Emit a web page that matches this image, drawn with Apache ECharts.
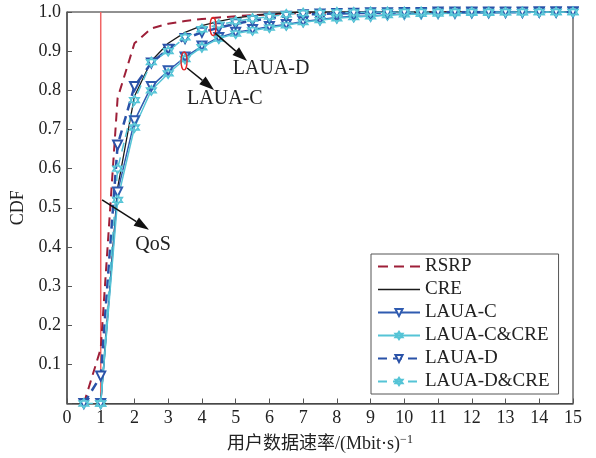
<!DOCTYPE html>
<html><head><meta charset="utf-8">
<script src="https://cdn.jsdelivr.net/npm/echarts@6/dist/echarts.min.js"></script>
<style>html,body{margin:0;padding:0;background:#fff}#c{width:596px;height:458px}</style>
</head><body><div id="c"></div>
<script>
const xs = [0.5,1,1.5,2,2.5,3,3.5,4,4.5,5,5.5,6,6.5,7,7.5,8,8.5,9,9.5,10,10.5,11,11.5,12,12.5,13,13.5,14,14.5,15];
const rsrp = [0,0.14,0.78,0.92,0.958,0.97,0.977,0.982,0.986,0.989,0.992,0.994,0.996,0.997,0.998,0.999,0.999,0.999,1,1,1,1,1,1,1,1,1,1,1,1];
const cre = [null,0,0.55,0.785,0.875,0.92,0.948,0.965,0.976,0.985,0.99,0.995,0.998,1,1,1,1,1,1,1,1,1,1,1,1,1,1,1,1,1];
const lauaC = [null,0,0.54,0.722,0.81,0.85,0.885,0.913,0.935,0.948,0.955,0.963,0.968,0.976,0.981,0.986,0.989,0.99,0.993,0.995,0.996,0.997,0.997,0.998,0.998,0.999,0.999,1,1,1];
const lauaCCre = [null,0,0.52,0.705,0.8,0.843,0.88,0.91,0.932,0.945,0.953,0.96,0.966,0.974,0.979,0.984,0.987,0.989,0.992,0.994,0.995,0.996,0.997,0.998,0.998,0.999,0.999,1,1,1];
const lauaD = [0,0.07,0.66,0.81,0.87,0.905,0.932,0.948,0.96,0.97,0.978,0.984,0.989,0.993,0.995,0.996,0.997,0.998,0.998,0.999,0.999,1,1,1,1,1,1,1,1,1];
const lauaDCre = [0,0,0.6,0.775,0.872,0.9,0.935,0.956,0.968,0.976,0.983,0.988,0.994,0.997,0.998,0.999,0.999,1,1,1,1,1,1,1,1,1,1,1,1,1];
const qosX = [1,1];
const qosY = [0,1];
const names = ['RSRP','CRE','LAUA-C','LAUA-C&CRE','LAUA-D','LAUA-D&CRE'];
// annotation anchors (data units)
const annEllipses = [[4.33,0.963],[3.47,0.875]];
const annArrows = [[[4.39,0.946],[5.34,0.875]],[[3.56,0.857],[4.36,0.801]],[[1.04,0.52],[2.43,0.444]]];
const annTexts = [['LAUA-D',6.05,0.854],['LAUA-C',4.68,0.778],['QoS',2.55,0.406]];

const FONT = '"Liberation Serif","Times New Roman","Noto Sans CJK SC",serif';
const star = 'path://M0,-10L8.66,5L-8.66,5Z M0,10L8.66,-5L-8.66,-5Z';
const dashIcon = 'path://M0,0h10v2h-10z M16,0h10v2h-10z M32,0h10v2h-10z';
const solidIcon = 'path://M0,0h42v1.4h-42z';
const zip = a => xs.map((x,i)=>[x,a[i]]);
const chart = echarts.init(document.getElementById('c'));
const cBlue='#2f5bb0', cCyan='#55c4d6', cDBlue='#2a52a8', cRed='#9e1f38', cBlack='#1a1a1a';
chart.setOption({
  animation:false,
  textStyle:{fontFamily:FONT,color:'#222'},
  grid:{left:67,right:23,top:12,bottom:51,show:true,borderColor:'#222',borderWidth:1},
  legend:{
    data:[{name:'RSRP',icon:dashIcon,itemStyle:{color:cRed}},{name:'CRE',icon:solidIcon,itemStyle:{color:cBlack}},'LAUA-C','LAUA-C&CRE','LAUA-D','LAUA-D&CRE'],
    orient:'vertical', left:371, top:254,
    itemWidth:42, itemHeight:9, itemGap:4, itemTextGap:4,
    padding:[3,9,3,6], borderColor:'#555', borderWidth:1, backgroundColor:'#fff',
    textStyle:{fontFamily:FONT,fontSize:19,color:'#222',lineHeight:19}
  },
  xAxis:{type:'value',min:0,max:15,interval:1,
    axisLine:{lineStyle:{color:'#555',width:1.5}},
    axisTick:{inside:true,length:5,lineStyle:{color:'#555'}},
    splitLine:{show:false},
    axisLabel:{fontFamily:FONT,fontSize:18,color:'#222',margin:6},
    name:'{a|用户数据速率/(Mbit·s)}{s|−1}', nameLocation:'middle', nameGap:30,
    nameTextStyle:{rich:{a:{fontFamily:FONT,fontSize:18,color:'#222'},s:{fontFamily:FONT,fontSize:12,color:'#222',padding:[0,0,9,0]}}}
  },
  yAxis:{type:'value',min:0,max:1,interval:0.1,
    axisLine:{lineStyle:{color:'#555',width:1.5}},
    axisTick:{inside:true,length:5,lineStyle:{color:'#555'}},
    splitLine:{show:false},
    axisLabel:{fontFamily:FONT,fontSize:18,color:'#222',margin:6,formatter:v=>v===0?'':v.toFixed(1)},
    name:'CDF', nameLocation:'middle', nameGap:39, nameRotate:90,
    nameTextStyle:{fontFamily:FONT,fontSize:18,color:'#222'}
  },
  series:[
    {name:'QoS',type:'line',data:qosX.map((x,i)=>[x,qosY[i]]),symbol:'none',lineStyle:{color:'#f06464',width:1.5},z:1},
    {name:'RSRP',type:'line',data:zip(rsrp),symbol:'none',color:cRed,lineStyle:{color:cRed,width:2,type:[9,6]}},
    {name:'CRE',type:'line',data:zip(cre),symbol:'none',color:cBlack,lineStyle:{color:cBlack,width:1.3}},
    {name:'LAUA-C',type:'line',data:zip(lauaC),symbol:'emptyTriangle',symbolRotate:180,symbolSize:9,
      itemStyle:{color:cBlue,borderColor:cBlue,borderWidth:1.5},lineStyle:{color:cBlue,width:1.5}},
    {name:'LAUA-C&CRE',type:'line',data:zip(lauaCCre),symbol:star,symbolSize:10,
      itemStyle:{color:'#c4ecf3',borderColor:cCyan,borderWidth:1.3},lineStyle:{color:cCyan,width:1.5}},
    {name:'LAUA-D',type:'line',data:zip(lauaD),symbol:'emptyTriangle',symbolRotate:180,symbolSize:9,
      itemStyle:{color:cDBlue,borderColor:cDBlue,borderWidth:1.5},lineStyle:{color:cDBlue,width:2.5,type:[9,6]}},
    {name:'LAUA-D&CRE',type:'line',data:zip(lauaDCre),symbol:star,symbolSize:10,
      itemStyle:{color:'#c4ecf3',borderColor:cCyan,borderWidth:1.3},lineStyle:{color:cCyan,width:1.5,type:[9,6]}}
  ]
});
const P = p => chart.convertToPixel({gridIndex:0},p);
const g = [];
annEllipses.forEach(e=>{const [cx,cy]=P(e);g.push({type:'ellipse',shape:{cx,cy,rx:3,ry:9},style:{fill:'none',stroke:'#e02424',lineWidth:1.3},z:100});});
annArrows.forEach(a=>{
  const [x1,y1]=P(a[0]),[x2,y2]=P(a[1]);
  const dx=x2-x1,dy=y2-y1,L=Math.hypot(dx,dy),ux=dx/L,uy=dy/L,hl=15,hw=5;
  const bx=x2-ux*hl,by=y2-uy*hl;
  g.push({type:'line',shape:{x1,y1,x2:bx,y2:by},style:{stroke:'#111',lineWidth:1.5},z:100});
  g.push({type:'polygon',shape:{points:[[x2,y2],[bx-uy*hw,by+ux*hw],[bx+uy*hw,by-ux*hw]]},style:{fill:'#111'},z:100});
});
annTexts.forEach(t=>{const [x,y]=P([t[1],t[2]]);g.push({type:'text',x,y,style:{text:t[0],fontFamily:FONT,fontSize:20,fill:'#222',align:'center',verticalAlign:'middle'},z:100});});
chart.setOption({graphic:g});
</script></body></html>
